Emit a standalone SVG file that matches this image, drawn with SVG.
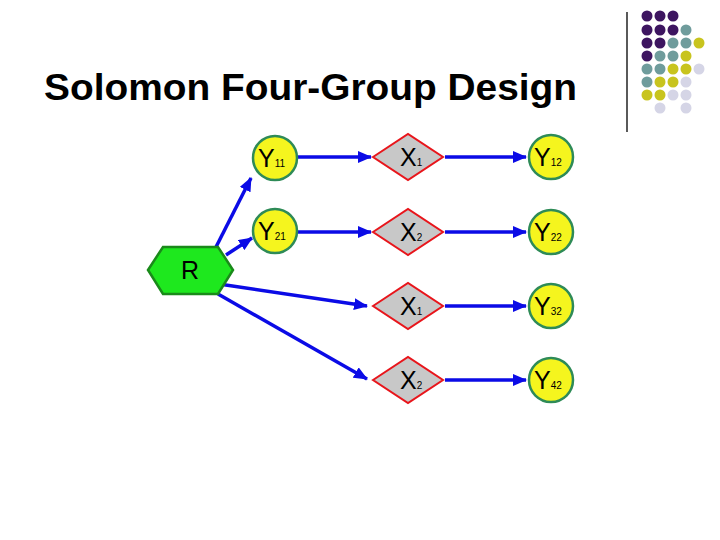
<svg xmlns="http://www.w3.org/2000/svg" width="720" height="540" viewBox="0 0 720 540">
<style>
.y{fill:#f5f51e;stroke:#2e8b57;stroke-width:2.5}
.x{fill:#c8c8c8;stroke:#e8151b;stroke-width:2}
.t{font-family:"Liberation Sans",Arial,sans-serif;font-size:25px;fill:#000}
.s{font-size:10px}
.c{stroke:#0b0be6;stroke-width:3.5;fill:none;marker-end:url(#a)}
.P{fill:#3d1560}.T{fill:#6f9c9c}.Y{fill:#c8c41e}.L{fill:#d5d5e6}
</style>
<defs><marker id="a" markerWidth="14" markerHeight="12" refX="13" refY="6" orient="auto" markerUnits="userSpaceOnUse" viewBox="0 0 14 12"><path d="M0,0L14,6L0,12z" fill="#0b0be6"/></marker></defs>
<rect width="720" height="540" fill="#fff"/>
<line x1="627" y1="12" x2="627" y2="132" stroke="#000" stroke-width="1.3"/>
<g>
<circle class="P" cx="647" cy="16" r="5.5"/><circle class="P" cx="660" cy="16" r="5.5"/><circle class="P" cx="673" cy="16" r="5.5"/>
<circle class="P" cx="647" cy="30" r="5.5"/><circle class="P" cx="660" cy="30" r="5.5"/><circle class="P" cx="673" cy="30" r="5.5"/><circle class="T" cx="686" cy="30" r="5.5"/>
<circle class="P" cx="647" cy="43" r="5.5"/><circle class="P" cx="660" cy="43" r="5.5"/><circle class="T" cx="673" cy="43" r="5.5"/><circle class="T" cx="686" cy="43" r="5.5"/><circle class="Y" cx="699" cy="43" r="5.5"/>
<circle class="P" cx="647" cy="56" r="5.5"/><circle class="T" cx="660" cy="56" r="5.5"/><circle class="T" cx="673" cy="56" r="5.5"/><circle class="Y" cx="686" cy="56" r="5.5"/>
<circle class="T" cx="647" cy="69" r="5.5"/><circle class="T" cx="660" cy="69" r="5.5"/><circle class="Y" cx="673" cy="69" r="5.5"/><circle class="Y" cx="686" cy="69" r="5.5"/><circle class="L" cx="699" cy="69" r="5.5"/>
<circle class="T" cx="647" cy="82" r="5.5"/><circle class="Y" cx="660" cy="82" r="5.5"/><circle class="Y" cx="673" cy="82" r="5.5"/><circle class="L" cx="686" cy="82" r="5.5"/>
<circle class="Y" cx="647" cy="95" r="5.5"/><circle class="Y" cx="660" cy="95" r="5.5"/><circle class="L" cx="673" cy="95" r="5.5"/><circle class="L" cx="686" cy="95" r="5.5"/>
<circle class="L" cx="660" cy="108" r="5.5"/><circle class="L" cx="686" cy="108" r="5.5"/>
</g>
<text x="44" y="100" font-family="Liberation Sans,Arial,sans-serif" font-size="36" font-weight="bold" textLength="533" lengthAdjust="spacingAndGlyphs">Solomon Four-Group Design</text>
<g id="connectors">
<path class="c" d="M216,247L251,178"/>
<path class="c" d="M226,255L252,238"/>
<path class="c" d="M219,284L367,306"/>
<path class="c" d="M218,294L367,379"/>
<path class="c" d="M298,157L371,157"/>
<path class="c" d="M298,232L371,232"/>
<path class="c" d="M445,157L526,157"/>
<path class="c" d="M445,232L526,232"/>
<path class="c" d="M445,306L526,306"/>
<path class="c" d="M445,380L526,380"/>
</g>
<g id="R"><polygon points="148,270 163,247 218,247 233,270 218,294 163,294" fill="#1ee81e" stroke="#1a8a1a" stroke-width="2.5"/><text class="t" x="181" y="279">R</text></g>
<g id="Y11"><circle class="y" cx="275" cy="158" r="22"/><text class="t" x="258" y="167">Y<tspan class="s">11</tspan></text></g>
<g id="Y21"><circle class="y" cx="275" cy="231" r="22"/><text class="t" x="258" y="240">Y<tspan class="s">21</tspan></text></g>
<g id="X1a"><polygon class="x" points="373,157 408,134 443,157 408,180"/><text class="t" x="400" y="166">X<tspan class="s">1</tspan></text></g>
<g id="X2a"><polygon class="x" points="373,232 408,209 443,232 408,255"/><text class="t" x="400" y="241">X<tspan class="s">2</tspan></text></g>
<g id="X1b"><polygon class="x" points="373,306 408,283 443,306 408,329"/><text class="t" x="400" y="315">X<tspan class="s">1</tspan></text></g>
<g id="X2b"><polygon class="x" points="373,380 408,357 443,380 408,403"/><text class="t" x="400" y="389">X<tspan class="s">2</tspan></text></g>
<g id="Y12"><circle class="y" cx="551" cy="157" r="22"/><text class="t" x="534" y="166">Y<tspan class="s">12</tspan></text></g>
<g id="Y22"><circle class="y" cx="551" cy="232" r="22"/><text class="t" x="534" y="241">Y<tspan class="s">22</tspan></text></g>
<g id="Y32"><circle class="y" cx="551" cy="306" r="22"/><text class="t" x="534" y="315">Y<tspan class="s">32</tspan></text></g>
<g id="Y42"><circle class="y" cx="551" cy="380" r="22"/><text class="t" x="534" y="389">Y<tspan class="s">42</tspan></text></g>
</svg>
